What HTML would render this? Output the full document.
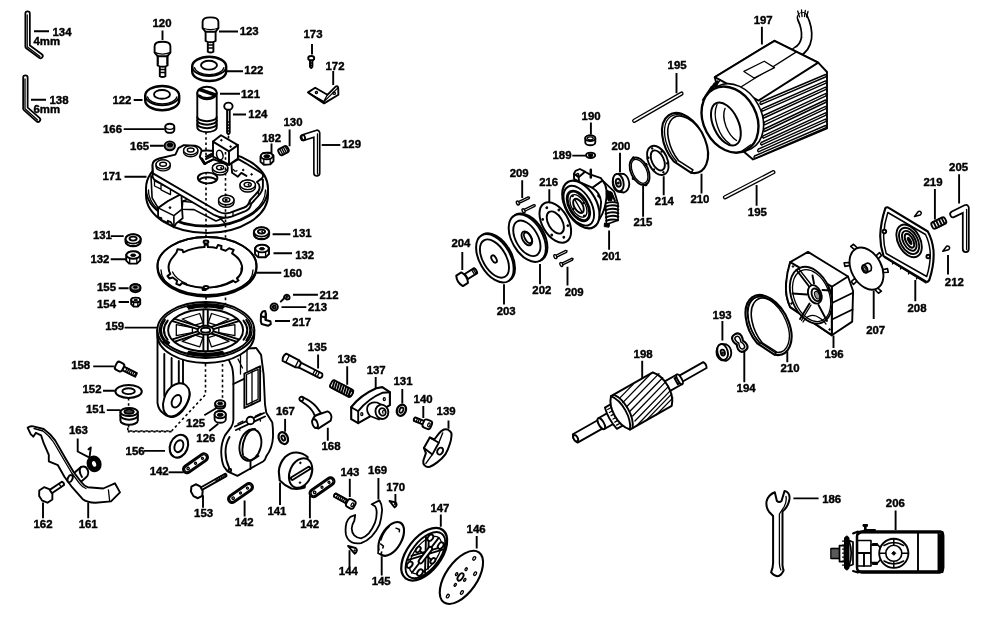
<!DOCTYPE html>
<html><head><meta charset="utf-8"><title>Parts diagram</title>
<style>
html,body{margin:0;padding:0;background:#fff;}
body{width:1000px;height:618px;overflow:hidden;font-family:"Liberation Sans",sans-serif;}
svg{display:block;filter:grayscale(1);}
text{font-family:"Liberation Sans",sans-serif;font-weight:bold;font-size:11.4px;fill:#000;stroke:#000;stroke-width:.4px;}
.p{fill:#fff;stroke:#000;stroke-width:1.9;stroke-linejoin:round;stroke-linecap:round;}
.n{fill:none;stroke:#000;stroke-width:1.9;stroke-linejoin:round;stroke-linecap:round;}
.t{fill:none;stroke:#000;stroke-width:1.3;stroke-linejoin:round;stroke-linecap:round;}
.k{fill:#000;stroke:#000;stroke-width:1;}
.g{fill:#999;stroke:#000;stroke-width:1;}
.thin .p,.thin .n{stroke-width:1.4;}
.l{fill:none;stroke:#000;stroke-width:1.9;}
.d{fill:none;stroke:#000;stroke-width:1.6;stroke-dasharray:2.6 2.6;}
</style></head><body>
<svg width="1000" height="618" viewBox="0 0 1000 618">
<rect width="1000" height="618" fill="#fff"/>
<g id="labels">
<text x="52.5" y="35.6">134</text><text x="33.5" y="45">4mm</text>
<text x="49.5" y="103.8">138</text><text x="33.5" y="113.4">6mm</text>
<text x="152.5" y="26.8">120</text>
<text x="239.7" y="35">123</text>
<text x="244.3" y="74.2">122</text>
<text x="112.4" y="103.6">122</text>
<text x="241" y="97.5">121</text>
<text x="248.3" y="118.2">124</text>
<text x="103" y="133.2">166</text>
<text x="130.1" y="150.2">165</text>
<text x="102.4" y="180.3">171</text>
<text x="303.5" y="38">173</text>
<text x="325.5" y="70.2">172</text>
<text x="283.5" y="126.1">130</text>
<text x="262" y="141.6">182</text>
</g>
<g id="leaders" class="l">
<path d="M34 31.3H49M31 99.8H46"/>
<path d="M162.5 30.5V40M219 31.5H238M226 71.2H243M133.7 100H142.5M220 93.7H240M233 114.5H246"/>
<path d="M123.7 129.1H164.6M150 145.8H163.8M124.5 176.7H146.5"/>
<path d="M312 44V54.5M333.2 71V85M271.5 143.6V153.2M289.6 129.5V146.2"/>
</g>
<text x="342" y="148.4">129</text>
<path class="l" d="M321.7 145H340.3"/>
<text x="186.100" y="427.400">125</text><text x="196.300" y="441.900">126</text>
<path class="l" d="M204.300 415.200L216.500 408M209.200 431L218.200 423.700"/>
<text x="275.900" y="414.800">167</text><path class="l" d="M285.100 418.900V431.700"/>
<text x="149.700" y="475.400">142</text><path class="l" d="M168.600 472.300H183.700"/>
<g id="labels2">
<text x="92.9" y="238.8">131</text><text x="90.4" y="263.2">132</text>
<text x="292.6" y="236.8">131</text><text x="295.2" y="259.2">132</text>
<text x="283.2" y="277">160</text>
<text x="97" y="291.3">155</text><text x="97" y="307.6">154</text>
<text x="319.5" y="299">212</text><text x="308" y="311.2">213</text><text x="292.2" y="325.5">217</text>
<text x="105.2" y="330.2">159</text>
<text x="71.2" y="369">158</text><text x="82.5" y="393.3">152</text><text x="86" y="412.6">151</text>
<text x="68.9" y="433.7">163</text>
<text x="125.6" y="454.8">156</text>
<text x="33.5" y="527.8">162</text><text x="78.7" y="527.8">161</text>
<text x="194.1" y="516.5">153</text><text x="234.7" y="526">142</text><text x="267.4" y="514.5">141</text><text x="300.2" y="528">142</text>
<text x="307.8" y="351.1">135</text><text x="337.5" y="363.1">136</text><text x="366.7" y="373.8">137</text><text x="393.5" y="385.1">131</text><text x="413.6" y="402.9">140</text><text x="436.6" y="415.4">139</text>
<text x="321.5" y="450">168</text>
<text x="340.4" y="476">143</text><text x="368.1" y="474.4">169</text><text x="386.2" y="490.8">170</text>
<text x="338.8" y="575.4">144</text><text x="371.7" y="584.5">145</text><text x="430.4" y="511.5">147</text><text x="466.6" y="532.8">146</text>
<text x="581.6" y="119.6">190</text><text x="552.5" y="158.9">189</text><text x="611.4" y="149.6">200</text>
<text x="509.7" y="177">209</text><text x="539.2" y="186">216</text><text x="654.8" y="204.5">214</text><text x="690.4" y="203">210</text>
<text x="633.4" y="226.4">215</text><text x="601.9" y="259.9">201</text><text x="451.4" y="246.6">204</text>
<text x="532.3" y="294.3">202</text><text x="564.7" y="295.5">209</text><text x="496.7" y="314.5">203</text>
<text x="753.7" y="24.2">197</text><text x="667.6" y="69.4">195</text><text x="747.8" y="215.5">195</text>
<text x="949.1" y="171.4">205</text><text x="923.5" y="185.6">219</text><text x="944.8" y="286.3">212</text>
<text x="907.5" y="311.9">208</text><text x="866.2" y="334.3">207</text><text x="824.6" y="358.2">196</text>
<text x="712.6" y="318.6">193</text><text x="736.6" y="392.4">194</text><text x="780.6" y="372.4">210</text><text x="633.6" y="358.2">198</text>
<text x="822.2" y="502.6">186</text><text x="885.8" y="507">206</text>
</g>
<g id="leaders2" class="l">
<path d="M110.7 236.100H123.700M110.700 259.200H126.900M272.600 234.200H290.400M273.500 253.300H292M256.400 272.800H281.300"/>
<path d="M118.600 288.200H128.600M118.600 302H129M293 294.800H317.900M281.500 307.100H306.300M275 321H290M124.600 327.600H157.600"/>
<path d="M93.200 366.400H113.900M103 390.700H114.900M106.800 410.100H120.400M77.700 438.600V451.500L89 457.300M144 450.900H165"/>
<path d="M43 502.400V518.200M88.200 502.400V518.200M203 495.300V507.700M244.600 500.600V516.500M280 482.500V505M309.900 495.400V518.200"/>
<path d="M318.100 354.400V368.600M347.200 366.300V384.800M375.700 377V389M402.300 389V403.600M423.300 406.100V418.100M448.500 420.400V428.800M327.800 427.800V440.800"/>
<path d="M349.800 478.700V496.900M378.400 478.100V499.400M395.400 493.900V503M349.500 550.200V566.900M381.700 556.300V575.400M440.800 514.600V526.700M476.700 535.900V548.600"/>
<path d="M590.900 122.500V134.600M572.300 155.600H585.700M620 152.800V172.200M522.200 180.300V198.100M549.300 189.200V203.300M663.700 176.200V195.200M701.500 173.800V193.500M643.100 185.900V216.700M609.100 230.400V249.800M462.300 251.900V270M540 264V284.200M567.500 266.800V285.400M504 284.200V304.400"/>
<path d="M761.900 26.700V44.500M676.500 73V93.200M756.600 185V205.700"/>
<path d="M959.100 174.200V203.400M934.900 189.100V219.400M948 255V274.600M915.300 279.900V301.200M873.700 290.600V319M833.500 335.500V348"/>
<path d="M722.400 321V340.400M744.300 349.900V382.200M787.300 351.500V362.200M642.200 360.700V379.100"/>
<path d="M793.400 498.400H818.600M895.600 510.400V530"/>
</g>
<g id="hexkeys">
<path class="n" style="stroke-width:6.25" d="M27.6 13.5V46.5L40.5 56"/>
<path class="n" style="stroke:#fff;stroke-width:2.75" d="M27.6 13.5V46.5L40.5 56"/>
<path class="t" d="M27.2 15V46.8L40 56.4"/>
<path class="n" style="stroke-width:6.25" d="M25.4 77.5V108.5L38 119.6"/>
<path class="n" style="stroke:#fff;stroke-width:2.75" d="M25.4 77.5V108.5L38 119.6"/>
<path class="t" d="M25 79V108.8L37.5 120"/>
<!-- 129 -->
<path class="n" style="stroke-width:7.50" d="M303.5 137.5L316.8 133.2V173"/>
<path class="n" style="stroke:#fff;stroke-width:4.25" d="M303.5 137.5L316.8 133.2V173"/>
<path class="t" d="M317.5 134V174"/>
<ellipse class="p" cx="303.3" cy="137.6" rx="1.7" ry="2.6" transform="rotate(-15 303.3 137.6)"/>
</g>
<g id="pin120">
<path class="p" d="M159.8 66h5.6v10.2q-2.8 1.6-5.6 0z"/>
<path class="t" d="M159.8 69.5h5.6M159.8 72.5h5.6"/>
<path class="p" d="M157.6 55h10v10.5q-5 2.6-10 0z"/>
<path class="p" d="M154.6 46.2q0-4.4 7.9-4.4t7.9 4.4v6.4l-3 3.6h-9.8l-3-3.6z"/>
<path class="t" d="M154.6 52.4q7.9 3.4 15.8 0M158 55.6V64M167 55.6V64"/>
</g>
<g id="pin123">
<path class="p" d="M207.8 41.5h5.6v10.2q-2.8 1.6-5.6 0z"/>
<path class="t" d="M207.8 45h5.6M207.8 48h5.6"/>
<path class="p" d="M205.6 30.5h10v10.5q-5 2.6-10 0z"/>
<path class="p" d="M202.6 21.8q0-4.4 7.9-4.4t7.9 4.4v6.4l-3 3.6h-9.8l-3-3.6z"/>
<path class="t" d="M202.6 28q7.9 3.4 15.8 0"/>
</g>
<g id="w122r">
<path class="p" style="stroke-width:2.38" d="M192.2 66.4a17 9.6 0 0 1 34 0v5a17 9.6 0 0 1-34 0z"/>
<path class="n" d="M192.2 66.4a17 9.6 0 0 0 34 0"/>
<path class="t" d="M194.5 67.700a14.800 7.800 0 0 0 29.400 0"/>
<ellipse class="p" cx="209" cy="65.200" rx="8" ry="4.400"/>
</g>
<g id="w122l">
<path class="p" style="stroke-width:2.38" d="M145.2 95.600a17 9.600 0 0 1 34 0v5a17 9.600 0 0 1-34 0z"/>
<path class="n" d="M145.200 95.600a17 9.600 0 0 0 34 0"/>
<path class="t" d="M147.500 96.900a14.800 7.800 0 0 0 29.400 0"/>
<ellipse class="p" cx="162" cy="94.400" rx="8" ry="4.400"/>
</g>
<g id="s121">
<path class="p" style="stroke-width:1.88" d="M197.3 93v34.5a9.7 4.6 0 0 0 19.4 0V93z"/>
<path class="n" d="M197.3 117a9.7 4.2 0 0 0 19.4 0M197.3 120.5a9.7 4.2 0 0 0 19.4 0M197.3 124a9.7 4.2 0 0 0 19.4 0"/>
<ellipse class="p" style="stroke-width:1.88" cx="207" cy="93" rx="9.7" ry="6.2"/>
<path class="n" d="M199.5 95.5a9 5.5 0 0 0 15 0"/>
<path class="n" d="M198.8 90.2L214.6 95.6M200.2 88.9L215.7 94.2"/>
</g>
<g id="b124">
<path class="p" d="M227.1 109v24l1.3 1.5 1.3-1.5V109z"/>
<path class="t" d="M227.1 122h2.6M227.1 125h2.6M227.1 128h2.6M227.1 131h2.6"/>
<ellipse class="p" cx="228.4" cy="106.2" rx="4.2" ry="3.6"/>
</g>
<g id="p166">
<path class="p" d="M165.3 126.5a4.5 2.8 0 0 1 9 0v3.6a4.5 2.8 0 0 1-9 0z"/>
<path class="t" d="M165.3 126.5a4.5 2.8 0 0 0 9 0"/>
</g>
<g id="p165">
<ellipse class="p" style="fill:#888" cx="169.8" cy="145.8" rx="5.2" ry="4.4"/>
<ellipse class="k" cx="170" cy="145" rx="2.8" ry="1.8"/>
</g>
<g id="s173">
<ellipse class="p" cx="311.2" cy="58.2" rx="3" ry="2.2"/>
<path class="p" d="M310 60.4v6.4l1.2 1.2 1.2-1.2v-6.4z"/>
<path class="t" d="M310 63h2.4M310 65.4h2.4"/>
</g>
<g id="b172">
<path class="p" d="M308 92.4L315.2 87.8 327.4 94.8 335.6 86.6q2.4-1.2 2.6 1.4L338.4 94.8 324.1 103.4z"/>
<path class="t" d="M309.5 93.6L324 101.6 337.4 88.4M327.4 94.8L324.4 100.2"/>
<circle class="t" cx="316.4" cy="92.6" r="1.1"/><circle class="t" cx="334.2" cy="93.2" r="1.2"/>
</g>
<g id="n182">
<path class="p" d="M260.5 156.6l2.6-3.4 6.6-.6 3.8 2.8v5.6l-3.2 3.4-6.4.4-3.4-3z"/>
<ellipse class="p" cx="266.8" cy="156" rx="6" ry="3.3"/>
<ellipse class="k" cx="266.8" cy="156.2" rx="3" ry="1.5"/>
<path class="t" d="M263.8 159.2v5M270.2 159v5.2"/>
</g>
<g id="s130" transform="rotate(-28 283.5 150.6)">
<rect class="p" x="278.5" y="147.2" width="10" height="6.8" rx="2.2"/>
<path class="t" d="M281 147.4v6.4M283 147.4v6.4M285 147.4v6.4M287 147.4v6.4"/>
</g>
<g id="plate171">
<!-- disc -->
<path class="p" style="stroke-width:2.00" d="M146 188.5a61 38 0 0 1 122 0v6.5a61 38 0 0 1-122 0z"/>
<path class="n" d="M146 188.5a61 38 0 0 0 122 0"/>
<path class="t" d="M148.5 190a58.5 35.5 0 0 0 117 0"/>
<!-- lower guide structure -->
<path class="p" style="stroke-width:1.600" d="M151 176l30.400 18-13.600 7.200-9.700 6.700-6-10z"/>
<path class="t" d="M154.200 180.700l27.200 13.600M154.500 181v5l6.500 3.200v-5M161 184.200v5.600l9.500 4.800v-5.600"/>
<path class="p" style="stroke-width:1.600" d="M182.100 209.200l.6-8 11.700-4.400 22 12 8 9-8.400 3.200-22-11.400z"/>
<path class="n" style="stroke-width:1.400" d="M194.400 196.800v5.800l22 11.600 8 8.600M182.700 201.200l11.700 1.400"/>
<!-- front block -->
<path class="p" style="stroke-width:1.800" d="M158.100 207.900L167.800 201.200 181.400 194 182.100 209.200 182.700 218.200 176.200 223.400 173.900 227.300 170.800 222.100 167.800 220.800 167.800 222.800 161.400 220.200 161.400 218.200 158.100 217z"/>
<path class="n" style="stroke-width:1.600" d="M158.100 207.900L173.900 215.600 182.100 209.200M173.900 215.600V227"/>
<circle class="k" cx="170" cy="207.600" r=".9"/>
<!-- mounting plate side (thickness) -->
<path class="p" d="M152.600 165V177l1.500 2.500L214.500 215.200q8 4.400 17 1.400l14-5.400q5-2.600 5.600-7.400l7-7.600q5-5.600 4.800-10.600v-6z"/>
<path class="t" d="M233 209.5v6M250 199v5.5M258.5 189.5v6"/>
<!-- mounting plate top -->
<path class="p" d="M152.6 165.5q-.6-5 6.6-7l16.2-3.8 3-6.6 5.4-3 11.4.6q5.6 1.4 6.4 5l-1.8 6 4.6 7.2 9-4.6 16 5.2 9-5.4 7.4 4.2 16 9.8q2.600 3-0.200 5.400l-4.6 3.600q4.600 4 1.200 9.400l-8.4 9q-.8 5-5.600 7l-14 5.200q-6 2-12-1.200L153 173.400z"/>

<!-- notch detail -->
<path class="n" d="M199.800 156.700l4.600 7.200 9-4.600M202 158.500l3.500 5.500"/>
<path class="t" d="M205.500 156.500l6-3M206.200 157.700l6-3M206.900 158.900l6-3"/>
<!-- block -->
<path class="p" d="M213 141.600L221 135.300 237.900 145.100V158.500L229 164.700 213 156.700z"/>
<path class="n" d="M213 141.600L229 151.400 237.900 145.100M229 151.400V164.700"/>
<ellipse class="p" style="stroke-width:1.500" cx="219.800" cy="155" rx="3.100" ry="4.800" transform="rotate(-15 219.800 155)"/>
<circle class="k" cx="221.400" cy="140.200" r="0.800"/><circle class="k" cx="230.600" cy="146.600" r="0.800"/>
<!-- right bracket piece -->
<path class="n" d="M231.500 164.500l.6 8.200 5.800 4 3.400-3.800 5.200 3"/>
<path class="t" d="M233.500 169.500q1.200 2.600 3.400 1.200"/>
<circle class="k" cx="243.200" cy="170" r="0.800"/><circle class="k" cx="251.600" cy="174.400" r="0.800"/>
<!-- bosses -->
<g class="thin">
<path class="p" d="M156 164.400a7.100 4.500 0 0 1 14.200 0v2a7.100 4.500 0 0 1-14.200 0z"/><ellipse class="p" cx="163.100" cy="164.400" rx="7.100" ry="4.500"/><ellipse class="p" cx="163.100" cy="164.200" rx="3.400" ry="2"/>
<path class="p" d="M183.600 150.200a7.100 4.500 0 0 1 14.200 0v2a7.100 4.500 0 0 1-14.200 0z"/><ellipse class="p" cx="190.700" cy="150.200" rx="7.100" ry="4.500"/><ellipse class="p" cx="190.700" cy="150" rx="3.400" ry="2"/>
<path class="p" d="M212.400 167.800a7.700 4.800 0 0 1 15.400 0v2.400a7.700 4.800 0 0 1-15.400 0z"/><ellipse class="p" cx="220.100" cy="167.800" rx="7.700" ry="4.800"/><ellipse class="p" cx="220.100" cy="167.600" rx="3.600" ry="2.200"/>
<path class="p" d="M240 184.800a7.700 4.800 0 0 1 15.400 0v2.400a7.700 4.800 0 0 1-15.400 0z"/><ellipse class="p" cx="247.700" cy="184.800" rx="7.700" ry="4.800"/><ellipse class="p" cx="247.700" cy="184.600" rx="3.600" ry="2.200"/>
<path class="p" d="M218.600 200a7.700 4.800 0 0 1 15.400 0v2.400a7.700 4.800 0 0 1-15.400 0z"/><ellipse class="p" cx="226.300" cy="200" rx="7.700" ry="4.800"/><ellipse class="p" cx="226.300" cy="199.800" rx="3.600" ry="2.200"/>
<path class="t" d="M221.500 167q-1.600.8 0 1.600M249 183.800q-1.600.8 0 1.600M227 199.200q-1.200.600 0 1.400"/>
</g>
<!-- large hole -->
<ellipse class="p" cx="207.600" cy="178" rx="9.800" ry="5.400"/>
<path class="n" d="M199 180.500a9 4.400 0 0 1 17.400 0"/>
</g>
<g id="dots" class="d">
<path d="M206 132V160M206 172V300"/>
<path d="M228.500 136V140M225.500 152V330"/>
</g>
<g id="ring160">
<path class="p" style="stroke-width:1.88" d="M157.500 266a49.500 29 0 0 1 99 0v1.800a49.500 29 0 0 1-99 0z"/>
<ellipse class="n" cx="207" cy="266" rx="49.500" ry="29"/>
<path class="t" d="M161 270a46 26 0 0 0 92 0"/>
<path class="p" style="stroke-width:2.00" d="M176.500 252.500l1-3.200 5 .8.800 2.200q10-4.600 21.200-5.200l.2-2.400 3 0 .2 2.400q5.400.2 8.600 1l1.400-3 3.600.8-.4 3.200 4.600 1.600 3.400-2.400 4.600 1.600-1.600 3.400q8.400 5.400 9.800 12.400t-5 12.600l1.600 2.200-3.200 1.800-2.400-1.800q-12 6.800-27 7.200l-.2 2.200-3 0-.2-2.200q-11.400-.6-20.400-4.800l-2.200 2.400-3.600-1.400.8-3.200-4.400-3.200-3.200 1-2-2.400 2.800-2.200q-4.600-8.600 3-17.200z"/>
<path class="t" d="M172.500 272q3.600 7.600 14 11.600M190 285.500q7 2 14 2.200M210.500 287.600q12.600-.8 22.400-6M237.500 278.500q4.400-4.600 3.600-10.600"/>
<ellipse class="p" cx="206" cy="242" rx="2.400" ry="1.500"/><ellipse class="p" cx="206" cy="287.500" rx="2.400" ry="1.500"/>
</g>
<g id="nuts">
<g id="n131r"><path class="p" style="stroke-width:2.25" d="M254 232a7.500 4.600 0 0 1 15 0v2.600a7.500 4.600 0 0 1-15 0z"/><ellipse class="p" cx="261.500" cy="232" rx="7.500" ry="4.600"/><ellipse class="p" cx="261.500" cy="231.600" rx="3.600" ry="2"/><path class="t" d="M262.500 231q-1.400.6 0 1.400"/></g>
<g id="n132r"><path class="p" d="M255 248.200l2.600-2.600 8.400-.2 3 2.600v6l-3.400 3.200h-7.600l-3-3z"/><ellipse class="p" cx="262" cy="248.600" rx="6.800" ry="3.800"/><ellipse class="k" cx="262" cy="248.800" rx="2.600" ry="1.200"/><path class="t" d="M258.500 252v5M265.600 252v5"/></g>
<g id="n131l"><path class="p" style="stroke-width:2.25" d="M125.600 239a7.500 4.600 0 0 1 15 0v2.600a7.500 4.600 0 0 1-15 0z"/><ellipse class="p" cx="133.100" cy="239" rx="7.500" ry="4.600"/><ellipse class="p" cx="133.100" cy="238.600" rx="3.600" ry="2"/></g>
<g id="n132l"><path class="p" d="M126.200 254.600l2.600-2.600 8.400-.2 3 2.600v6l-3.400 3.200h-7.600l-3-3z"/><ellipse class="p" cx="133.200" cy="255" rx="6.800" ry="3.800"/><ellipse class="k" cx="133.200" cy="255.200" rx="2.600" ry="1.200"/><path class="t" d="M129.700 258.400v5M136.800 258.400v5"/></g>
<g id="n155"><path class="p" d="M130.400 287.400a5 3.200 0 0 1 10 0v1.600a5 3.200 0 0 1-10 0z"/><ellipse class="p" style="fill:#999" cx="135.400" cy="287.400" rx="5" ry="3.200"/><ellipse class="k" cx="135.400" cy="287.200" rx="2" ry="1"/></g>
<g id="n154"><path class="p" d="M131.200 299.600l2-1.600 5 0 2 1.600v4.600l-2.400 2.400h-4.200l-2.400-2.400z"/><ellipse class="p" cx="135.700" cy="300" rx="4.400" ry="2.400"/><ellipse class="k" cx="135.700" cy="300.100" rx="1.800" ry=".9"/><path class="t" d="M133.600 302.400v4M137.800 302.400v4"/></g>
</g>
<g id="s212a"><path class="p" d="M284 297.400a2.800 2.800 0 1 1 5.200 1.600l-2.400.6z"/><path class="p" d="M284.400 298l-3.600 3.600"/><circle class="k" cx="286.800" cy="296.800" r="1"/></g>
<g id="w213"><ellipse class="p" style="stroke-width:2.00" cx="274.200" cy="307" rx="3.600" ry="3.400"/><ellipse class="p" cx="274.200" cy="307" rx="1.500" ry="1.400"/></g>
<g id="c217"><path class="p" style="stroke-width:2.00" d="M261 314.200l1.600-2.800 2.600-.4.800 3.200-.4 5.800 4.800 1.200.4 3-2.800 1.600-6.400-1.800-.8-2.800z"/><path class="n" d="M265.600 314v5.800M262 316.500l3.600 1"/></g>
<g id="yoke159">
<!-- left leg -->
<path class="p" style="stroke-width:1.88" d="M157.500 330V403q1 7 6 10.500q5 4 9.500 3.500q7-1.500 12-9.500q5-8.500 4.800-14q-.8-6.500-6.800-9V352z"/>
<path class="n" d="M164.300 354V396M171.600 358V388.500M178.800 361V384"/>
<path class="p" d="M163 404q1.500-11 8-17q7-5.500 13-3q6 3.500 5.500 10.500q-1 8-6.500 14.500q-6 7-12 7.500q-8-.5-8-12.500z"/>
<ellipse class="p" cx="176.400" cy="401.200" rx="4.300" ry="6.600" transform="rotate(25 176.400 401.200)"/>
<!-- right arm -->
<path class="p" style="stroke-width:1.88" d="M223 350q5.600 8 9 17q1.600 6 1.400 17V420q-.4 4.600-2.400 7.400l-6 8q-3.600 7-3.800 16q.2 9 2.500 14.800l3.800 5.200 9.900 4.500 12.600-7.200 13.500-7.500q2-2 2.700-4.800q6.400-8.600 6.800-19.400q.2-8-.7-14.600l-6-9.600-1.300-8.500-1.400-30-2.500-19.400-4.900-6.900z"/>
<path class="n" d="M233.400 384l27-13M235 426.500l29-13.500M236 430l29-13.500M229.500 437q-4 7-4 15t3.500 15.500"/>
<path class="t" d="M238 359l4.500 9M240.500 350v24M247 347v24"/>
<path class="p" d="M244.400 373.500l15.700-7.200v34.400l-15.700 7.300z"/>
<path class="t" d="M246.500 374.500l11.600-5.200v30l-11.600 5.500zM252 371.500v33"/>
<circle class="p" cx="250.400" cy="420.500" r="3.800"/>
<path class="t" d="M240.500 428q-1.800.6-.6 2.200M259 419.500q1.800-.4 1.400 1.600M238 423.500l5-2.300M255.500 416l5.500-2.600"/>
<ellipse class="p" style="stroke-width:1.88" cx="250.400" cy="445" rx="10.600" ry="16" transform="rotate(14 250.400 445)"/>
<path class="n" d="M243 455q-2-9 2.500-18.500q4-7.500 9.500-7.500M243.500 456.500l7 4.500 8-5M250.500 461v8"/>
<circle class="p" cx="229.800" cy="470.200" r="1.400"/>
<!-- top ring -->
<path class="p" style="stroke-width:1.88" d="M157.300 330a48.500 28 0 0 1 97 0v5a48.500 28 0 0 1-97 0z"/>
<path class="n" d="M157.300 330a48.500 28 0 0 0 97 0"/>
<path class="n" style="stroke-width:1.38" d="M160 332.500a46 25.500 0 0 0 91.600 0"/><ellipse class="n" style="stroke-width:1.38" cx="205.800" cy="330" rx="46.300" ry="26.300"/>
<ellipse class="n" cx="205.600" cy="330.200" rx="37.500" ry="21"/>
<path class="t" d="M216.200 325.200L229.000 319.000L211.500 313.500L208.300 322.700z M218.800 332.700L234.900 335.700L234.900 324.700L218.800 327.700z M208.300 337.700L211.500 346.900L229.000 341.400L216.200 335.200z M195.000 335.200L182.200 341.400L199.700 346.900L202.900 337.700z M192.400 327.700L176.300 324.700L176.300 335.700L192.400 332.700z M202.900 322.700L199.700 313.500L182.200 319.000L195.000 325.200z"/>
<path class="n" d="M207.800 325.800L207.800 309.700M203.400 325.800L203.400 309.700 M213.600 329.100L238.700 321.100M211.400 326.900L236.500 318.800 M211.400 333.500L236.500 341.600M213.600 331.300L238.700 339.300 M203.400 334.600L203.400 350.700M207.800 334.600L207.800 350.700 M197.600 331.300L172.500 339.300M199.800 333.500L174.700 341.600 M199.800 326.900L174.700 318.800M197.600 329.100L172.500 321.100"/>
<path class="n" style="stroke-width:2.00" d="M222.500 308.700A41.500 23.500 0 0 0 188.700 308.700 M223.700 307.100A44.500 25.300 0 0 0 187.500 307.100 M167.700 320.600A41.500 23.500 0 0 0 167.700 339.800 M164.900 319.900A44.500 25.300 0 0 0 164.900 340.500 M188.700 351.700A41.500 23.500 0 0 0 222.500 351.700 M187.500 353.300A44.500 25.300 0 0 0 223.700 353.300 M243.500 339.800A41.500 23.500 0 0 0 243.500 320.600 M246.300 340.500A44.500 25.300 0 0 0 246.300 319.900"/>
<ellipse class="p" cx="205.600" cy="330.200" rx="8" ry="4.400"/><ellipse class="p" cx="205.600" cy="330.200" rx="4.600" ry="2.400"/>
<ellipse class="k" cx="205.600" cy="306.600" rx="2" ry="1.200"/><ellipse class="k" cx="205.600" cy="354" rx="2" ry="1.200"/>
<rect class="p" x="164" y="341" width="5" height="2" transform="rotate(28 166 342)"/>
</g>
<g class="d">
<path d="M205.500 364V394.600L171.600 431H127.800V418"/>
<path d="M222.500 364V398"/>
</g>
<g id="p125"><path class="p" d="M215.200 403.600a5 3.200 0 0 1 10 0v2a5 3.200 0 0 1-10 0z"/><ellipse class="p" cx="220.200" cy="403.600" rx="5" ry="3.200"/><ellipse class="k" cx="220.200" cy="403.600" rx="2.600" ry="1.400"/></g>
<g id="p126"><path class="p" d="M214.600 414.600a5.600 3.600 0 0 1 11.200 0v4.600a5.600 3.600 0 0 1-11.200 0z"/><ellipse class="p" cx="220.200" cy="414.600" rx="5.600" ry="3.600"/><ellipse class="k" cx="220.200" cy="414.800" rx="3" ry="1.600"/></g>
<g id="s158" transform="rotate(27 120 366.800)">
<path class="p" d="M123.500 364.800h14.500v4h-14.500z"/>
<path class="t" d="M127 364.800v4M129 364.800v4M131 364.800v4M133 364.800v4M135 364.800v4M137 364.800v4"/>
<rect class="p" style="stroke-width:2.00" x="115.500" y="362.400" width="8" height="8.800" rx="2.600"/>
</g>
<g id="w152"><ellipse class="p" style="stroke-width:2.00" cx="128.600" cy="391.400" rx="13.200" ry="6.500"/><ellipse class="p" cx="128.600" cy="391.200" rx="6.200" ry="2.900"/></g>
<g id="p151"><path class="p" style="stroke-width:2.00" d="M120.400 412a8.700 4 0 0 1 17.400 0v8.400a8.700 4.400 0 0 1-17.400 0z"/><path class="n" d="M120.400 412a8.700 4 0 0 0 17.400 0M120.400 415.500a8.700 4.200 0 0 0 17.400 0"/><ellipse class="p" cx="129.100" cy="411.800" rx="4.600" ry="2"/><path class="t" d="M124.500 412h9.200"/></g>
<g class="d"><path d="M128.600 398V407M128.600 425V431.600H172"/></g>
<g id="p161">
<path class="p" d="M69.500 477l11.500-10q4.500-1.500 6.500 2.500t-1 7.500l-11 9.500z"/>
<path class="n" d="M81 467q-3 4 1 10"/>
<path class="p" d="M27.600 427.700q2.500-2 5.700-1.300l10.400 2.600q6.600 4.600 11.600 11.600l10.400 18.100 7.700 13 7.800 10.300q3 4 6.500 5.200l15.500 1.300 11.700-5.200 5.100 9.100-9 9-15.600 1.400q-8.500-.4-12.900-3.900l-10.400-11.700-7.700-10.400-6.500-11.600-9.100-3.900v-6.400l-5.100-11.700-2.600-7.800-5.200-2.600-2.600 3.900-2.600-2.600z"/>
<path class="t" d="M34 428.500l9 2.500q6 4.500 10.500 11l10.500 18 7.700 13 7.800 10.300q3 4 6.500 5.200M108.400 489.800l1.300 11.700"/>
<ellipse class="p" cx="70.100" cy="478.700" rx="2.300" ry="3.800" transform="rotate(25 70.100 478.700)"/>
</g>
<g id="b162" transform="rotate(-34 45.700 495)">
<path class="p" d="M51 493h15.500q1.400 2 0 4h-15.500z"/>
<path class="p" d="M39.700 492.200l3.200-4.600h5.800l3.200 4.600v5.600l-3.200 4.600h-5.800l-3.200-4.600z"/>
<path class="t" d="M63 493v4"/>
</g>
<g id="s163">
<ellipse cx="94.100" cy="463.900" rx="4.700" ry="5.700" fill="#fff" stroke="#000" stroke-width="5.50" transform="rotate(-20 94.100 463.900)"/>
<path class="n" d="M89.500 457.500l1.300-10l-2.300 1.800"/>
</g>
<g id="w156" transform="rotate(22 178.900 446.200)"><ellipse class="p" style="stroke-width:2.12" cx="178.900" cy="446.200" rx="8.800" ry="11.800"/><ellipse class="p" cx="178.900" cy="446.200" rx="4.200" ry="6.200"/></g>
<defs><g id="link"><rect class="p" style="stroke-width:2.12" x="-14.300" y="-4" width="28.600" height="8" rx="4"/><rect class="t" x="-12.800" y="-2.700" width="25.600" height="5.400" rx="2.700"/><circle class="t" cx="-9" cy="0" r="1.200"/><circle class="t" cx="0" cy="0" r="1"/><circle class="t" cx="8.500" cy="0" r="1"/></g></defs>
<use href="#link" transform="translate(195.500 463.300) rotate(-35)"/>
<use href="#link" transform="translate(240.500 493) rotate(-35)"/>
<use href="#link" transform="translate(322 487.200) rotate(-35)"/>
<g id="b153" transform="rotate(-29.400 196.900 491.200)">
<path class="p" d="M201 489.800h29q1.200 1.400 0 2.800h-29z"/>
<path class="t" d="M219 489.800v2.800M221 489.800v2.800M223 489.800v2.800M225 489.800v2.800M227 489.800v2.800M229 489.800v2.800"/>
<path class="p" style="stroke-width:2.00" d="M191.500 488.600l2.800-4h5l2.800 4v5.200l-2.800 4h-5l-2.800-4z"/>
</g>
<g id="c141">
<path class="p" style="stroke-width:2.12" d="M278.800 471.500q.4-8 6.300-14.500q5.400-5 11.700-4.500q6.500.6 10.800 4.500l-3 30.600q-5.600 2-13.200.900q-7-3-11.700-8.100z"/>
<ellipse class="p" style="stroke-width:2.00" cx="300.600" cy="473" rx="10.800" ry="15.400" transform="rotate(24 300.600 473)"/>
<path class="p" d="M291 477.500l17.500-10.800q1.800.2 1.700 2.300l-17.700 11q-2-.5-1.500-2.500z"/>
<circle class="k" cx="300.400" cy="462.900" r=".8"/><circle class="k" cx="300" cy="482.600" r=".8"/>
</g>
<g id="w167" transform="rotate(-25 283.300 438.100)"><ellipse class="p" style="stroke-width:2.25" cx="283.300" cy="438.100" rx="4.400" ry="6.200"/><ellipse class="p" style="stroke-width:2.00" cx="283.300" cy="438.100" rx="1.600" ry="2.600"/></g>
<g id="p135" transform="rotate(27 284 357)">
<path class="p" d="M300 354.400h25.500q2.600 2.600 0 5.200h-25.500z"/>
<path class="t" d="M320 354.400v5.200M322.500 354.400v5.200M317.500 354.400v5.200"/>
<path class="p" style="stroke-width:2.00" d="M284.500 353q-2.500 4 0 8h14l3.500-1.400v-5.200l-3.500-1.400z"/>
<path class="t" d="M288 353v8M298.500 353v8"/>
</g>
<g id="s136" transform="rotate(27.600 331.200 383.100)">
<rect class="p" x="331.200" y="379.100" width="23.500" height="8" rx="2"/>
<path class="n" style="stroke-width:1.88" d="M333 379.100l1.600 8M335.600 379.100l1.600 8M338.200 379.100l1.600 8M340.800 379.100l1.600 8M343.400 379.100l1.600 8M346 379.100l1.600 8M348.600 379.100l1.600 8M351.200 379.100l1.600 8"/>
<ellipse class="p" cx="353.600" cy="383.100" rx="1.400" ry="2.800"/>
</g>
<g id="b137">
<path class="p" style="stroke-width:2.12" d="M351.200 407.200q9-12 25-19l6.100-1.100 7.600 5.100v13l-31.700 18-7-4z"/>
<path class="n" d="M358.200 411.200v12M351.200 407.200l7 4q10-12.500 24.500-18.500l7.200-.5"/>
<path class="p" style="stroke-width:1.75" d="M377 402.500q-7-1-9.500 4q-1.500 5 2.500 9.500l9 3.500 6-13z"/>
<ellipse class="p" style="stroke-width:1.88" cx="381.900" cy="411.800" rx="6.400" ry="7.200" transform="rotate(-20 381.900 411.800)"/>
<ellipse class="p" cx="382.400" cy="411.900" rx="3.200" ry="3.800" transform="rotate(-20 382.400 411.900)"/>
<path class="t" d="M383.600 410.500q-1.800.6-.6 2.600"/>
<ellipse class="t" cx="361.800" cy="414.200" rx="1" ry="1.500"/><ellipse class="t" cx="384.300" cy="399.200" rx="1" ry="1.500"/>
</g>
<g id="w131c" transform="rotate(25 401.400 410.200)"><ellipse class="p" style="stroke-width:2.25" cx="401.400" cy="410.200" rx="4.400" ry="5.800"/><ellipse class="p" style="stroke-width:1.75" cx="401.400" cy="410.200" rx="1.800" ry="2.800"/></g>
<g id="s140" transform="rotate(22 427.400 424.300)">
<path class="p" d="M413.600 422.400h10v3.800h-10q-1.400-1.900 0-3.800z"/>
<path class="t" d="M416 422.400v3.800M418 422.400v3.800M420 422.400v3.800"/>
<rect class="p" style="stroke-width:1.88" x="423" y="420" width="8.600" height="8.600" rx="2.600"/>
<ellipse class="t" cx="429" cy="424.300" rx="1.200" ry="2"/>
</g>
<g id="k139">
<path class="p" style="stroke-width:2.00" d="M444 429.500q3.500-.8 5.800 1.600q2.200 1.800 1.700 4.400q-.2 4.500-1.700 8.500q-1.600 5.500-4.500 10.400q-3.300 4.600-7.800 7.700q-3.700 3-7.700 4.600q-3.200.8-5.200-1.300q-1.800-1.600-1.300-4.600l2.600-7.700-2-5.200 5.900-10.400 4.500 2 4.500-5.800q2.300-3 5.200-4.200z"/>
<path class="n" style="stroke-width:1.88" d="M429.800 437.500L438.800 442.700 432.400 454.400 423.900 447.900"/>
<path class="n" style="stroke-width:1.38" d="M442.700 433L438.800 442.700M432.400 454.400L425.900 463.400"/>
<ellipse class="p" style="stroke-width:1.88" cx="440.100" cy="451.100" rx="2.700" ry="3.700" transform="rotate(30 440.100 451.100)"/>
</g>
<g id="l168">
<path class="p" style="stroke-width:1.88" d="M300 397.600q1.800-1.600 3.600 0q8.500 4 13 9.500l4.400 6-6 3q-2.500-6.500-8.500-11l-6-4.400q-1.600-1.500-.5-3.100z"/>
<circle class="p" style="stroke-width:1.62" cx="301.400" cy="398.900" r="1.900"/>
<path class="p" style="stroke-width:1.88" d="M312.600 421q.4-4.500 4.400-6l10.500-3.600q3.600 1.400 4 5.600l-.8 3.600-12.500 8q-5-1.500-5.600-7.600z"/>
<ellipse class="p" cx="315" cy="423.600" rx="2.500" ry="4.500" transform="rotate(-20 315 423.600)"/>
</g>
<g id="s143" transform="rotate(29 350.800 503.900)">
<path class="p" d="M332.600 502h14v3.800h-14q-1.400-1.900 0-3.800z"/>
<path class="t" d="M335 502v3.800M337 502v3.800M339 502v3.800M341 502v3.800M343 502v3.800M345 502v3.800"/>
<rect class="p" style="stroke-width:1.88" x="346.600" y="499.600" width="8.400" height="8.600" rx="2.600"/>
<ellipse class="t" cx="352.600" cy="503.900" rx="1.200" ry="2"/>
</g>
<g id="c169">
<path class="p" style="stroke-width:1.800" d="M371.700 504.300L379.500 500.400Q382.500 505 382 511.100Q381.500 518 379.500 524.700Q376.500 531.500 371.700 536.300Q367 541 361.100 543.100Q355.500 544 351.400 542.100Q347 539.500 345.900 534.400Q345 528 346.500 522.700Q348 519 350.400 516.900L355.200 515L354.300 520.800Q352 524.500 351.700 528.500Q351.800 532.500 354.300 535.300Q357 538 361.100 538.300Q365.500 537 368.800 533.400Q372.500 529 375 522.700Q377 516.500 376.600 511.100Q376.400 508 375 506.200Z"/>
</g>
<g id="s170"><path class="p" d="M389.500 501l6 1.400q1.800 1.500.6 3.600l-1.500 1.400z"/><circle class="k" cx="395" cy="504" r=".7"/></g>
<g id="s144"><path class="p" d="M348 546l7.600 2q2.200 1.600.6 4.200l-1.600 1.500z"/><circle class="k" cx="354.600" cy="550.500" r=".7"/></g>
<g id="d145" transform="rotate(30 391.200 538.900)">
<ellipse class="p" style="stroke-width:2.12" cx="391.200" cy="538.900" rx="10.200" ry="18.600"/>
<path class="n" style="stroke-width:1.38" d="M382.800 545a9 17 0 0 1 .5-16"/>
<path class="n" style="stroke-width:1.50" d="M390 527.200l3.600-.6 1 2M384.500 548.600l3.600.4 .4 2"/>
<path class="p" style="stroke-width:1.62" d="M385.500 554.500l1.500 3.500 3-.5-.5-2.500"/>
</g>
<g id="d146" transform="translate(-3 1.5) rotate(35 464.400 575.900)">
<ellipse class="p" style="stroke-width:2.12" cx="464.400" cy="575.900" rx="15.600" ry="30.500"/>
<ellipse class="p" cx="463.400" cy="576" rx="2.200" ry="4.200"/>
<ellipse class="t" cx="463.600" cy="566.500" rx=".9" ry="1.600"/><ellipse class="t" cx="463.600" cy="585.500" rx=".9" ry="1.600"/><ellipse class="t" cx="458.600" cy="576" rx=".9" ry="1.600"/><ellipse class="t" cx="468.600" cy="576" rx=".9" ry="1.600"/>
<ellipse class="t" cx="464" cy="553" rx="1.200" ry="2"/><ellipse class="t" cx="464" cy="599" rx="1.200" ry="2"/><ellipse class="t" cx="473.500" cy="565" rx="1.200" ry="2"/><ellipse class="t" cx="473.500" cy="588" rx="1.200" ry="2"/>
</g>
<g id="d147" transform="translate(-.9 1.4) rotate(37.500 425.100 552.800)">
<ellipse class="p" style="stroke-width:2.25" cx="425.100" cy="552.800" rx="17" ry="30.500"/>
<ellipse class="n" cx="426.600" cy="552.800" rx="14" ry="27"/>
<ellipse class="t" cx="426.600" cy="552.800" rx="11" ry="22"/>
<path class="n" d="M416 538l21 29M437 538l-21 29M418 536l19 26M435 536l-19 26"/>
<path class="n" style="stroke-width:1.88" d="M416 552.800h21M426.600 531v44"/>
<rect class="p" x="424.600" y="543" width="4" height="19.600" rx="2"/>
<ellipse class="p" cx="420" cy="536" rx="2.400" ry="3.600"/><ellipse class="p" cx="433" cy="536" rx="2.400" ry="3.600"/><ellipse class="p" cx="420" cy="570" rx="2.400" ry="3.600"/><ellipse class="p" cx="433" cy="570" rx="2.400" ry="3.600"/>
<ellipse class="p" cx="417.500" cy="552.800" rx="2" ry="3.200"/><ellipse class="p" cx="436" cy="552.800" rx="2" ry="3.200"/>
</g>
<g id="m197">
<!-- cable -->
<path class="n" style="stroke-width:11.88" d="M797 52q8-4 9.500-14q1-10-4-20"/>
<path class="n" style="stroke:#fff;stroke-width:8.50" d="M796 52.500q9-4 10.500-14.500q1-10-4.300-21"/>
<path class="t" d="M799.500 17l-1.800-6M802 16.500l-.5-6.500M804.500 16.500l.8-6M806.500 17l1.500-5.500"/>
<!-- body silhouette -->
<path class="p" style="stroke-width:1.88" d="M714.800 77.200L774.500 40.800 818.200 62.700 827 72v56.500L753 159.500 730 140z"/>
<path class="p" style="stroke-width:1.44" d="M760.5 102.0L825.5 74.5q1.800 1.250 0 2.500L760.8 104.5q-1.800-1.250 0-2.500z"/>
<path class="p" style="stroke-width:1.44" d="M762.2 108.8L825.5 80.9q1.800 1.250 0 2.500L762.5 111.2q-1.800-1.250 0-2.500z"/>
<path class="p" style="stroke-width:1.44" d="M763.6 115.5L825.5 87.2q1.800 1.250 0 2.500L763.9 118.0q-1.800-1.250 0-2.500z"/>
<path class="p" style="stroke-width:1.44" d="M764.3 122.2L825.5 93.6q1.800 1.250 0 2.500L764.6 124.8q-1.800-1.250 0-2.500z"/>
<path class="p" style="stroke-width:1.44" d="M764.2 129.0L825.5 100.0q1.800 1.250 0 2.500L764.5 131.5q-1.800-1.250 0-2.500z"/>
<path class="p" style="stroke-width:1.44" d="M763.2 135.8L825.5 106.4q1.800 1.250 0 2.500L763.5 138.2q-1.800-1.250 0-2.500z"/>
<path class="p" style="stroke-width:1.44" d="M761.2 142.5L825.5 112.8q1.800 1.250 0 2.500L761.5 145.0q-1.800-1.250 0-2.500z"/>
<path class="p" style="stroke-width:1.44" d="M758.2 149.2L825.5 119.1q1.800 1.250 0 2.500L758.5 151.8q-1.800-1.250 0-2.500z"/>
<path class="p" style="stroke-width:1.44" d="M754.5 156.0L825.5 125.5q1.800 1.250 0 2.500L754.8 158.5q-1.800-1.250 0-2.500z"/>
<!-- top panel -->
<path class="p" style="stroke-width:2.00" d="M714.800 77.200L774.500 40.800 818.200 62.700 758.500 100.600z"/>
<path class="t" d="M738.100 88.800L796.400 51.900"/>
<path class="p" style="stroke-width:1.25" d="M743.900 71.400L764.300 61.200 774.500 67.600 754.100 78.100z"/>
<!-- left small fins -->
<path class="n" style="stroke-width:1.38" d="M702.500 100l5.500-8.500M705 96.500l6.500-10M708 93l6.500-10M711.500 90l6-9M715 87.500l5-7.500M702 105l3.500-5.500"/>
<!-- front ring -->
<ellipse class="p" style="stroke-width:1.62" cx="734.500" cy="117.500" rx="27" ry="35.500" transform="rotate(-28 734.500 117.500)"/>
<ellipse class="p" style="stroke-width:2.38" cx="730" cy="119.600" rx="26.500" ry="34.600" transform="rotate(-28 730 119.600)"/>
<path class="n" style="stroke-width:1.38" d="M742 151l8.500-6"/>
<ellipse class="p" style="stroke-width:2.00" cx="725.900" cy="124" rx="12.500" ry="23" transform="rotate(-25 725.900 124)"/>
<path class="n" style="stroke-width:1.38" d="M717 104.500q-4 9 .5 22q4 12 12.500 17.500M725 108.500q-3 7 1 18q4 10 10.500 14"/>
</g>
<g id="rods195">
<path class="n" style="stroke-width:4.25" d="M634.200 120.800L681.500 93.600"/><path class="n" style="stroke:#fff;stroke-width:1.62" d="M634.200 120.800L681.500 93.600"/>
<path class="n" style="stroke-width:4.25" d="M725 197.300L773.300 172.200"/><path class="n" style="stroke:#fff;stroke-width:1.62" d="M725 197.300L773.300 172.200"/>
</g>
<g id="r210a" transform="translate(685 143) rotate(-27.700)">
<path class="p" style="stroke-width:2.12" d="M-18.500 11.050A19.700 32.300 0 1 1 -8.330 29.270z"/>
<path class="n" style="stroke-width:1.62" d="M-14 12.500A16.800 29.800 0 0 1 19.300 -6M-14 12.500L-5.500 27.500L-8.330 29.270"/>
<path class="t" d="M-16 12.500A18.200 31 0 0 1 10 -26"/>
</g>
<g id="g214" transform="rotate(-25 657.800 160.400)">
<ellipse class="p" style="stroke-width:1.88" cx="657.800" cy="160.400" rx="9.500" ry="15.500"/>
<ellipse class="p" cx="657.800" cy="160.400" rx="6" ry="10.700"/>
<circle class="k" cx="657.800" cy="147.200" r=".7"/><circle class="k" cx="657.800" cy="173.600" r=".7"/><circle class="k" cx="650.500" cy="154" r=".7"/><circle class="k" cx="665" cy="154" r=".7"/><circle class="k" cx="650.500" cy="167" r=".7"/><circle class="k" cx="665" cy="167" r=".7"/>
</g>
<g id="g215" transform="rotate(-25 639.600 171.300)">
<ellipse class="p" style="stroke-width:1.88" cx="639.600" cy="171.300" rx="8.700" ry="14.600"/>
<ellipse class="t" cx="639.600" cy="171.300" rx="7" ry="12.800"/>
<circle class="k" cx="639.600" cy="156.500" r="1"/><circle class="k" cx="639.600" cy="186.200" r="1"/><circle class="k" cx="648.400" cy="168" r="1"/><circle class="k" cx="630.800" cy="175" r="1"/>
</g>
<g id="b200">
<path class="p" style="stroke-width:1.88" d="M619 173.600q-5.500 1-6.300 7.600q-.2 7 4.800 10.300l6.500 1q5-2 5.300-8.500q-.6-7.500-5.300-10z"/>
<ellipse class="p" cx="618.300" cy="182.600" rx="5.200" ry="8.800" transform="rotate(-12 618.300 182.600)"/>
<ellipse class="p" cx="618.300" cy="182.800" rx="2.400" ry="4" transform="rotate(-12 618.300 182.800)"/>
<circle class="k" cx="618.300" cy="183" r="1"/>
</g>
<g id="p190"><path class="p" style="stroke-width:1.88" d="M585.300 138.200a5 2.800 0 0 1 10 0v4.200a5 2.800 0 0 1-10 0z"/><ellipse class="p" cx="590.300" cy="138.200" rx="5" ry="2.800"/><ellipse class="t" cx="590.300" cy="138.300" rx="3" ry="1.500"/></g>
<g id="w189"><ellipse class="p" style="stroke-width:1.88" cx="590.600" cy="155.300" rx="4.600" ry="2.700"/><ellipse class="p" cx="590.600" cy="155.300" rx="1.800" ry="1"/></g>
<g id="d203" transform="rotate(-30 494.900 258.300)">
<ellipse class="p" style="stroke-width:2.00" cx="496.400" cy="258.300" rx="15.400" ry="26.500"/>
<ellipse class="p" style="stroke-width:2.00" cx="494.900" cy="258.300" rx="15.400" ry="26.500"/>
<ellipse class="n" cx="494.400" cy="258.300" rx="11.600" ry="21"/>
<ellipse class="p" cx="493.800" cy="258.500" rx="2.200" ry="4"/>
</g>
<g id="d202" transform="rotate(-30 527.300 238.100)">
<ellipse class="p" style="stroke-width:2.00" cx="529" cy="238.100" rx="15.400" ry="26"/>
<ellipse class="p" style="stroke-width:2.00" cx="527.300" cy="238.100" rx="15.400" ry="26"/>
<ellipse class="n" cx="526.800" cy="238.100" rx="11" ry="19.500"/>
<ellipse class="p" cx="526.800" cy="238.100" rx="4.400" ry="7.600"/>
<ellipse class="n" cx="528" cy="238.100" rx="3" ry="6"/>
</g>
<g id="d216" transform="rotate(-30 555.300 222.500)">
<ellipse class="p" style="stroke-width:2.00" cx="555.300" cy="222.500" rx="13" ry="22.200"/>
<ellipse class="p" cx="555.300" cy="222.500" rx="7" ry="12.200"/>
<circle class="k" cx="555.300" cy="205.500" r=".9"/><circle class="k" cx="555.300" cy="239.500" r=".9"/><circle class="k" cx="546" cy="213.500" r=".9"/><circle class="k" cx="564.600" cy="213.500" r=".9"/><circle class="k" cx="546" cy="231.500" r=".9"/><circle class="k" cx="564.600" cy="231.500" r=".9"/>
</g>
<defs><g id="scr"><path class="p" style="stroke-width:1.38" d="M0-1h11.500l1 1-1 1h-11.500z"/><ellipse class="p" style="stroke-width:1.38" cx="-.5" cy="0" rx="1.300" ry="2.100"/></g></defs>
<use href="#scr" transform="translate(518.300 202.800) rotate(-26)"/>
<use href="#scr" transform="translate(524 210.600) rotate(-26)"/>
<use href="#scr" transform="translate(555.800 256.400) rotate(-26)"/>
<use href="#scr" transform="translate(561.800 264.200) rotate(-26)"/>
<g id="b204" transform="rotate(-32.500 462.800 278.800)">
<path class="p" style="stroke-width:1.88" d="M467 275.800h11q1.500 3 0 6h-11z"/>
<path class="t" d="M475 275.800v6M476.800 275.800v6"/>
<path class="p" style="stroke-width:2.00" d="M459 272.600q-3.500 6.200 0 12.400h6q3.500-6.200 0-12.400z"/>
</g>
<g id="a201">
<!-- right body -->
<path class="p" style="stroke-width:1.75" d="M602.400 180.400L614.100 191.300 616.300 197.900 617.700 203 606 204 598 196z"/>
<path class="k" d="M607 190.500l4.500 1.500 1.500 4-1.500 5-3.500-.5-1.500-5z"/>
<path class="n" d="M611.500 193l3.500 8M604.500 187.500l2.500 4"/>
<!-- fins -->
<path class="p" style="stroke-width:1.62" d="M605.500 203.500q6.500-2.600 12.500-.3v17q-6 2.300-11.500 4z"/>
<path class="n" style="stroke-width:2.00" d="M605.500 206.800q6.500-2.600 12.800-.5M605.500 210.300q6.500-2.600 12.800-.5M605.700 213.800q6.500-2.600 12.600-.5M606 217.300q6.500-2.600 12.300-.5M606.300 220.800q6-2.400 11.700-.6"/>
<path class="k" d="M604.500 223l5 1.200-.5 3-4.800-.6z"/>
<!-- cover band -->
<path class="p" style="stroke-width:1.88" d="M592.200 187.700l10.200-7.300q3.600 4 4 9.500q.6 8-.8 13.500q-2 11-8.500 19l-4 3.500q8-12 8-24q-.5-9-8.900-14.200z"/>
<!-- top bracket -->
<path class="p" style="stroke-width:1.88" d="M574 173.800l1.500-2.900 4.400-1.900 5.100 2.700 3.600 2.100 12.400 4.400 1.400 2.200-10.200 7.300-13.100-5.900-5.100-2.900z"/>
<path class="n" d="M579.100 181.800l-.5-4.500-4.600-3.500M578.600 177.300l6.400-5.600"/>
<circle class="t" cx="577.700" cy="174.600" r="1.100"/>
<path class="n" style="stroke-width:2.50" d="M590.800 169.800v7.600"/>
<!-- drum front -->
<g transform="rotate(-30 580 205)">
<ellipse class="p" style="stroke-width:2.12" cx="581" cy="205" rx="15.400" ry="26"/>
<ellipse class="n" cx="578.600" cy="205" rx="12.400" ry="21.800"/>
<ellipse class="n" style="stroke-width:2.88" cx="578.200" cy="205" rx="9" ry="16.200"/>
<ellipse class="t" cx="578.200" cy="205" rx="6.800" ry="12.400"/>
<ellipse class="p" cx="578.200" cy="205" rx="4.200" ry="7.800"/>
<path class="t" d="M578.200 197.200v15.600"/>
<circle class="k" cx="578.200" cy="193.500" r=".7"/><circle class="k" cx="578.200" cy="216.500" r=".7"/><circle class="k" cx="572.500" cy="205" r=".7"/><circle class="k" cx="584" cy="205" r=".7"/>
</g>
</g>
<g id="r210b" transform="translate(768.5 325) rotate(-27.700)">
<path class="p" style="stroke-width:2.12" d="M-18.500 11.050A19.700 32.300 0 1 1 -8.330 29.270z"/>
<path class="n" style="stroke-width:1.38" d="M-16.300 10.600A17.600 30.200 0 1 1 -7 27.200z"/>
<path class="n" style="stroke-width:1.62" d="M-14 12.500A16.800 29.800 0 0 1 19.300 -6M-14 12.500L-5.500 27.500L-8.330 29.270"/>
<path class="t" d="M-16 12.500A18.200 31 0 0 1 10 -26"/>
</g>
<g id="r198" transform="rotate(-29.500 623.300 411.100)">
<!-- left shaft -->
<path class="p" style="stroke-width:1.88" d="M568 406.400h33v9.600h-33q-3-4.800 0-9.600z"/>
<ellipse class="p" cx="568.500" cy="411.200" rx="2" ry="3.400"/>
<path class="p" style="stroke-width:1.88" d="M598 405h14v12.400h-14z"/>
<ellipse class="p" cx="598" cy="411.200" rx="2.600" ry="6.200"/>
<!-- commutator -->
<path class="p" style="stroke-width:1.88" d="M609 399h10v24.400h-10q-3-12.200 0-24.400z"/>
<path class="t" d="M610.500 402h6M610.500 405.500h6M610.500 409h6M610.500 413h6M610.500 416.500h6M610.500 420h6"/>
<!-- right shaft -->
<path class="p" style="stroke-width:1.88" d="M669 405.600h19v11h-19z"/>
<path class="p" style="stroke-width:1.88" d="M684 407.800h33q2 3.400 0 6.800h-33z"/>
<ellipse class="p" cx="688" cy="411.200" rx="2" ry="5.500"/>
<!-- body -->
<path class="p" style="stroke-width:2.00" d="M620 392h48q6.500 7 6.500 19.200t-6.500 19.200h-48q-6.500-7-6.500-19.200t6.500-19.200z"/>
<path class="n" d="M620 392q5.500 7 5.500 19.200t-5.500 19.200M623 392q5.500 7 5.500 19.200t-5.500 19.200"/>
<path class="t" d="M627 403.500l39-11.500M628.300 409l44.500-13M629 414.500l45-13M629 420l45.500-13.500M628.500 425.500l46-13.500M627 430.600l47-14M638 430.600l36-10.600M650 430.600l23-6.600M626.500 398l18.500-5.300"/>
</g>
<g id="b193">
<path class="p" style="stroke-width:1.88" d="M722 344q-5 1.500-5.500 7.500q0 6 4.500 8.500l5 .8q5-1.800 5.300-7.800q-.3-6.500-4.800-8.500z"/>
<ellipse class="p" cx="722.600" cy="352" rx="5.200" ry="8" transform="rotate(-15 722.600 352)"/>
<ellipse class="p" cx="722.800" cy="352.600" rx="2" ry="3" transform="rotate(-15 722.800 352.600)"/>
<circle class="k" cx="722.800" cy="352.800" r=".9"/>
</g>
<g id="w194" transform="rotate(-32 739.800 342.600)">
<path class="p" style="stroke-width:2.12" d="M734.800 337.600q0-4.600 5-4.600t5 4.600q0 2.400-1.400 5q1.400 2.600 1.400 5q0 4.600-5 4.600t-5-4.600q0-2.400 1.400-5q-1.400-2.600-1.400-5z"/>
<path class="p" style="stroke-width:1.50" d="M737.400 338.200q0-2.600 2.400-2.600t2.400 2.600q0 2-1.200 4.400q1.200 2.400 1.200 4.400q0 2.600-2.400 2.600t-2.400-2.600q0-2 1.200-4.400q-1.200-2.400-1.200-4.400z"/>
</g>
<g id="h196">
<path class="p" style="stroke-width:1.88" d="M790.200 262.100L808 251.900 848 276.500 853.100 291 852.200 321.600 831.800 335.200 790.200 307.100q-5-11-4.200-23z"/>
<path class="n" d="M831.800 286.700L848 276.500M831.800 286.700V335.200M833 302.500l19.500-9.500M833 319l19.500-9.500"/>
<path class="p" style="stroke-width:2.00" d="M790.200 262.100L831.800 286.700V335.200L790.200 307.100q-5-11-4.200-23q.8-12 4.200-22z"/>
<ellipse class="p" style="stroke-width:1.88" cx="811" cy="295.200" rx="19.500" ry="29.500" transform="rotate(-22 811 295.200)"/>
<ellipse class="t" cx="811.600" cy="295.600" rx="17.500" ry="27" transform="rotate(-22 811.600 295.600)"/>
<path class="n" d="M796.500 270l13 17M792.500 293.500l14.500 1M800 319l9.500-15.500M822.500 290l8 .5M818.500 305l8.500 16M814 283.500l-1.500-8"/>
<path class="t" d="M798.500 268.500l13 16.500M801.500 320.500l9.500-15.500M803 322q5-8.500 13-6q6 2.500 10 8"/>
<ellipse class="p" style="stroke-width:1.88" cx="814.800" cy="294.400" rx="6.400" ry="9.600" transform="rotate(-22 814.800 294.400)"/>
<ellipse class="p" cx="816" cy="294.800" rx="4" ry="6.600" transform="rotate(-22 816 294.800)"/>
<ellipse class="g" cx="817" cy="295.200" rx="2.200" ry="4" transform="rotate(-22 817 295.200)"/>
<circle class="k" cx="793" cy="266.500" r=".8"/><circle class="k" cx="828.800" cy="288.500" r=".8"/><circle class="k" cx="829.600" cy="329.500" r=".8"/><circle class="k" cx="791.500" cy="303.500" r=".8"/>
</g>
<g id="f207">
<g transform="rotate(-28 866.500 268.600)">
<path class="p" style="stroke-width:1.62" d="M865 246.500l-2-5 3.500-.5 1.500 5zM880.500 262l5-1.500.5 3.500-5 1.500zM880 277l5 1.500-1 3.500-4.500-2zM867 290.500l2 5-3.500.5-1.500-5zM852.500 275l-5 1.500-.5-3.500 5-1.500zM853.500 258l-5-1.500 1-3.500 4.500 2z"/>
<ellipse class="p" style="stroke-width:1.88" cx="866.500" cy="268.600" rx="15" ry="22.500"/>
</g>
<path class="p" style="stroke-width:1.62" d="M862.500 265.500l5-2.500q3.500.5 4 4.500l-.5 3-5 2.500q-3.500-1-3.500-7.500z"/>
<ellipse class="p" cx="864.800" cy="269" rx="2.400" ry="3.600" transform="rotate(-25 864.800 269)"/>
<ellipse class="g" cx="864.800" cy="269.200" rx="1.200" ry="2" transform="rotate(-25 864.800 269.200)"/>
</g>
<g id="c208">
<path class="p" style="stroke-width:2.12" d="M885.300 208.300q1.500-1.800 3.500-.5L927.800 231.500q4.500 8 5.700 19q1 14-4.200 29.500q-1.200 2.500-3.500 1.500L883.600 256.200q-3.400-10-3.400-20.500q.6-14 5.100-27.400z"/>
<path class="n" style="stroke-width:1.50" d="M887.800 212.500L925.500 234.500q3.600 7 4.600 16.500q.8 12-3.400 25.500L886.200 253.500q-2.600-8.500-2.600-17.500q.4-12 4.200-23.500z"/>
<path class="t" d="M884.500 257.500l41.500 25.500M893 262.500l-.5 1.500M901 267.500l-.5 1.500M909 272.500l-.5 1.500M917 277.500l-.5 1.500"/>
<circle class="p" cx="884.400" cy="231.500" r="1.800"/><circle class="p" cx="928.200" cy="256.500" r="1.800"/>
<g transform="rotate(-28 909.100 240.900)">
<ellipse class="n" style="stroke-width:1.88" cx="909.100" cy="240.900" rx="11" ry="17.500"/>
<ellipse class="n" cx="909.100" cy="240.900" rx="8.600" ry="14.200"/>
<ellipse class="n" cx="909.300" cy="240.900" rx="6" ry="10.800"/>
<ellipse class="n" style="stroke-width:2.00" cx="909.500" cy="240.900" rx="3.600" ry="7.600"/>
<ellipse class="k" cx="909.500" cy="241.200" rx="1.400" ry="4"/>
</g>
</g>
<g id="s219" transform="rotate(-26.500 938.800 223)">
<rect class="p" style="stroke-width:1.88" x="931.300" y="219.500" width="15" height="7" rx="2.400"/>
<path class="n" d="M934.500 219.600v6.800M937.500 219.600v6.800M940.500 219.600v6.800M943.500 219.600v6.800"/>
</g>
<g id="k205">
<path class="n" style="stroke-width:7.75" d="M953.200 214.200L965.800 208V249"/>
<path class="n" style="stroke:#fff;stroke-width:4.25" d="M953.200 214.200L965.800 208V249"/>
<path class="t" d="M966.600 209.500V249.500"/>
</g>
<g id="s212b"><path class="p" style="stroke-width:1.50" d="M914.500 216.500l3.800-5q2.200-.8 3 1.200q.2 1.600-1.200 2.300z"/></g>
<g id="s212c"><path class="p" style="stroke-width:1.50" d="M942.800 251.300l3.800-5q2.200-.8 3 1.200q.2 1.600-1.200 2.300z"/></g>
<g id="w186">
<path class="p" style="stroke-width:2.00" d="M774.800 492.200q-6.500 2.500-8.200 9q-1 6 2.400 10.500l4.100 4.300v47q0 4-2 9.400q3 3.600 6.200 3.800q4-.3 6.300-5.900q-1.400-4-1.100-7.300v-51.500q6-5 7-12.600q.6-6.500-4.900-8l-3.100 10.100q-2.300 2-4.600 0z"/>
<path class="t" d="M779.400 514v49q0 4 1.500 7M786 496.500q1 5-2 10.500l-4.600 7"/>
</g>
<g id="a206">
<!-- shaft -->
<path class="p" style="stroke-width:1.62" d="M831 548.500h13v10h-13z"/>
<path class="t" d="M833 548.500v10M835 548.500v10M837 548.500v10M839 548.500v10"/>
<path class="p" style="stroke-width:1.75" d="M839.500 545.500h5v16h-5z"/>
<!-- gear -->
<path class="k" d="M844.500 538q2.500-4 4.500 0v30q-2 4-4.500 0z"/>
<path class="n" style="stroke-width:1.25" d="M844 541h-1.500M844 545h-1.500M844 549h-1.500M844 553h-1.500M844 557h-1.500M844 561h-1.500M844 565h-1.500"/>
<path class="p" style="stroke-width:1.75" d="M849 540.500q4.500 13 0 25.500l4-1.500v-22.500z"/>
<!-- body -->
<path class="p" style="stroke-width:2.50" d="M857 536.500q0-4.500 5-5h78q3 .5 3.200 4v32q-.2 4-3.200 4.900h-78q-5-.4-5-4.900z"/>
<path class="k" d="M857 531.500h86v1.600h-86zM857 570.800h86v1.800h-86z"/>
<path class="n" d="M918 532v40M938.500 533v38"/>
<path class="k" d="M939.500 534h3.500v37h-3.500z"/>
<!-- bracket -->
<path class="p" style="stroke-width:1.62" d="M857.500 540.500h13.500v25.500h-13.500z"/>
<path class="n" d="M857.500 553h13.500M864 553v13"/>
<path class="p" style="stroke-width:1.50" d="M871 545h7l2.500 3v11.500l-2.500 3h-7z"/>
<path class="k" d="M872.500 543.500h5v2h-5zM872.500 562.500h5v2h-5z"/>
<path class="n" d="M853 533.500l5-2M853 571l5 1.500"/>
<!-- knob -->
<path class="k" d="M863 524.500h4.500v1.800h-4.500zM864.500 526h1.600v5.500h-1.600z"/>
<path class="n" d="M857 535l8-5h10"/>
<!-- circle -->
<circle class="p" style="stroke-width:1.88" cx="893.800" cy="553.300" r="14.600"/>
<circle class="p" style="stroke-width:1.62" cx="893.800" cy="553.300" r="8"/>
<path class="n" style="stroke-width:1.50" d="M884 545.500q9.800-6 19.600 0M884 561q9.800 6 19.600 0M893.800 539v6M893.800 561.500v6M879.500 553.300h6M902 553.300h6"/>
<path class="k" d="M893.800 551.300l2 2-2 2-2-2z"/>
</g>
</svg>
</body></html>
